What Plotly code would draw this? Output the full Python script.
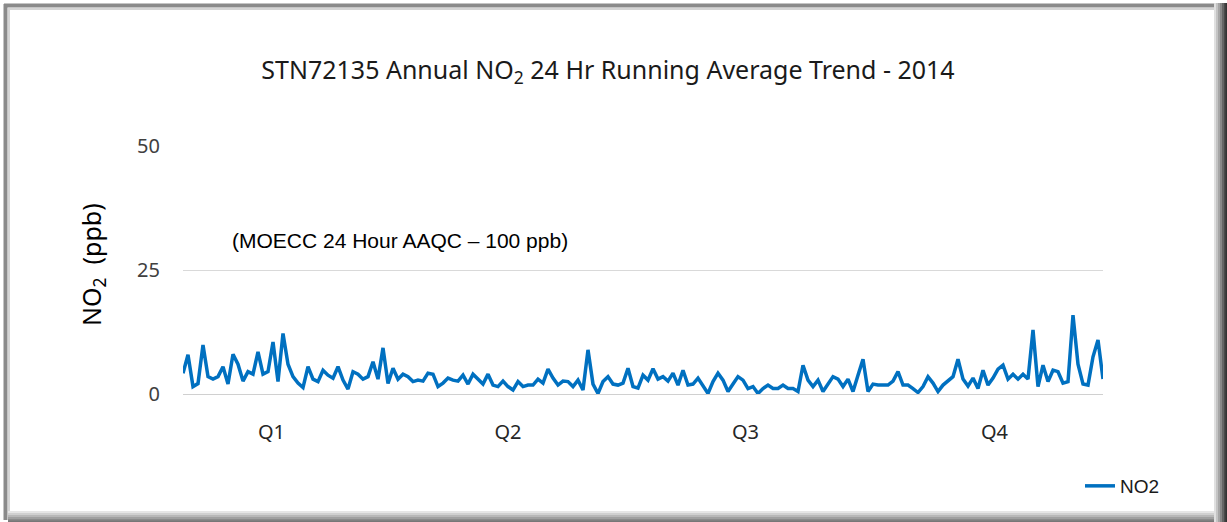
import plotly.graph_objects as go

# ---------------- data ----------------
series_name = "NO2"
no2_ppb_q1 = [4.2, 7.9, 1.5, 2.1, 9.9, 3.5, 3.0, 3.5, 5.5, 2.0, 8.0, 6.0, 2.6, 4.5, 4.0, 8.5,
              4.0, 4.5, 10.5, 2.5, 12.2, 6.0, 3.5, 2.2, 1.3, 5.5, 3.0, 2.5, 4.8, 3.8, 3.2, 5.5,
              2.8, 1.0, 4.5, 4.0, 3.0, 3.5, 6.5, 3.0, 9.3, 2.1, 5.2, 3.0, 4.0, 3.5, 2.5]
no2_ppb_q2 = [2.8, 2.6, 4.2, 4.0, 1.5, 2.2, 3.2, 2.8, 2.6, 3.8, 2.0, 4.0, 3.0, 2.0, 4.0, 1.8,
              1.5, 2.6, 1.5, 0.8, 2.5, 1.5, 1.8, 1.8, 3.0, 2.2, 5.0, 3.2, 1.8, 2.6, 2.5, 1.5,
              2.8, 0.8, 8.9, 2.0, 0.1, 2.5, 3.5, 2.0, 1.8, 2.2, 5.2, 1.5, 1.2, 3.8]
no2_ppb_q3 = [2.8, 5.1, 3.0, 3.5, 2.6, 4.2, 1.8, 4.8, 1.8, 2.0, 3.2, 1.5, 0.1, 2.5, 4.2, 2.8,
              0.5, 2.0, 3.5, 2.8, 1.1, 1.5, 0.1, 1.1, 1.8, 1.1, 1.1, 1.8, 1.1, 1.1, 0.5, 5.8,
              2.8, 1.5, 2.8, 0.5, 2.0, 3.5, 3.0, 1.5, 3.0, 0.5, 3.8, 7.0, 0.5, 2.0]
no2_ppb_q4 = [1.8, 1.8, 1.8, 2.6, 4.5, 1.8, 1.8, 1.1, 0.3, 1.5, 3.5, 2.2, 0.5, 1.8, 2.6, 3.5,
              7.0, 3.0, 1.6, 3.2, 1.1, 4.8, 1.8, 3.2, 5.0, 5.8, 3.0, 4.0, 3.0, 4.0, 3.0, 12.9,
              1.5, 5.8, 2.5, 4.8, 4.5, 2.2, 2.5, 15.9, 6.0, 2.0, 1.8, 7.5, 10.9, 3.0]
quarter_labels = ["Q1", "Q2", "Q3", "Q4"]
quarter_label_index = [17.7, 65.0, 112.5, 162.3]
y_ticks = [0, 25, 50]
title_text = "STN72135 Annual NO<sub>2</sub> 24 Hr Running Average Trend - 2014"
y_title = "NO<sub>2</sub>  (ppb)"
note_text = "(MOECC 24 Hour AAQC \u2013 100 ppb)"

no2_ppb = no2_ppb_q1 + no2_ppb_q2 + no2_ppb_q3 + no2_ppb_q4
sample_index = list(range(len(no2_ppb)))

# ---------------- layout geometry ----------------
W, H = 1227, 522
L, R, T, B = 183, 124, 146, 128
PW, PH = W - L - R, H - T - B


def px(x):
    return (x - L) / PW


def py(y):
    return (H - B - y) / PH


fig = go.Figure()
fig.add_trace(go.Scatter(
    x=sample_index, y=no2_ppb, mode="lines", name=series_name,
    line=dict(color="#0070C0", width=3.5), showlegend=True,
))

shapes = []
# frame: left/top grey bars
shapes.append(dict(type="line", xref="paper", yref="paper", x0=px(5.5), x1=px(5.5), y0=py(4), y1=py(520),
                   line=dict(color="#8a8a8a", width=4)))
shapes.append(dict(type="line", xref="paper", yref="paper", x0=px(4), x1=px(1216), y0=py(5.5), y1=py(5.5),
                   line=dict(color="#8a8a8a", width=4)))
shapes.append(dict(type="line", xref="paper", yref="paper", x0=px(9), x1=px(9), y0=py(8), y1=py(512),
                   line=dict(color="#d4d4d4", width=2)))
shapes.append(dict(type="line", xref="paper", yref="paper", x0=px(8), x1=px(1214), y0=py(9), y1=py(9),
                   line=dict(color="#d4d4d4", width=2)))
# right shadow gradient
for xv, col in [(1215, "#e0e0e0"), (1217, "#c4c4c4"), (1219, "#a6a6a6"), (1221, "#888888"),
                (1223, "#666666"), (1225, "#4a4a4a"), (1226.5, "#333333")]:
    shapes.append(dict(type="line", xref="paper", yref="paper", x0=px(xv), x1=px(xv), y0=py(3), y1=py(522),
                       line=dict(color=col, width=2)))
# bottom shadow gradient
for yv, col in [(512, "#e6e6e6"), (514, "#d0d0d0"), (516, "#b8b8b8"), (518, "#a0a0a0"),
                (520, "#8a8a8a"), (521.5, "#777777")]:
    shapes.append(dict(type="line", xref="paper", yref="paper", x0=px(8), x1=px(1214), y0=py(yv), y1=py(yv),
                       line=dict(color=col, width=2)))

fig.update_layout(
    width=W, height=H,
    margin=dict(l=L, r=R, t=T, b=B),
    paper_bgcolor="white", plot_bgcolor="white",
    title=dict(text=title_text, x=608 / W, xref="container", xanchor="center",
               y=1 - 70 / H, yref="container", yanchor="middle",
               font=dict(family="Noto Sans", size=25, color="#1a1a1a")),
    xaxis=dict(range=[0, len(no2_ppb) - 1], tickmode="array", tickvals=quarter_label_index,
               ticktext=quarter_labels, showgrid=False, zeroline=False,
               showline=True, linecolor="#d0d0d0", linewidth=1,
               ticks="outside", ticklen=20, tickcolor="rgba(0,0,0,0)",
               tickfont=dict(family="Noto Sans", size=20, color="#262626")),
    yaxis=dict(range=[0, 50], tickmode="array", tickvals=y_ticks,
               showgrid=True, gridcolor="#d9d9d9", gridwidth=1, zeroline=False,
               ticks="outside", ticklen=18, tickcolor="rgba(0,0,0,0)",
               tickfont=dict(family="Noto Sans", size=20, color="#404040")),
    legend=dict(x=px(1080), y=py(486), xanchor="left", yanchor="middle",
                font=dict(family="Liberation Sans", size=19, color="#1a1a1a"),
                bgcolor="rgba(0,0,0,0)", itemwidth=30),
    shapes=shapes,
    annotations=[
        dict(text=note_text, xref="paper", yref="paper", x=px(400), y=py(240),
             xanchor="center", yanchor="middle", showarrow=False,
             font=dict(family="Liberation Sans", size=21, color="#000000")),
        dict(text=y_title, xref="paper", yref="paper", x=px(92), y=py(265),
             xanchor="center", yanchor="middle", showarrow=False, textangle=-90,
             font=dict(family="Noto Sans", size=25, color="#000000")),
    ],
)

fig.write_html("out.html", config={"displayModeBar": False},
               post_script="document.body.style.margin='0';document.body.style.overflow='hidden';")
